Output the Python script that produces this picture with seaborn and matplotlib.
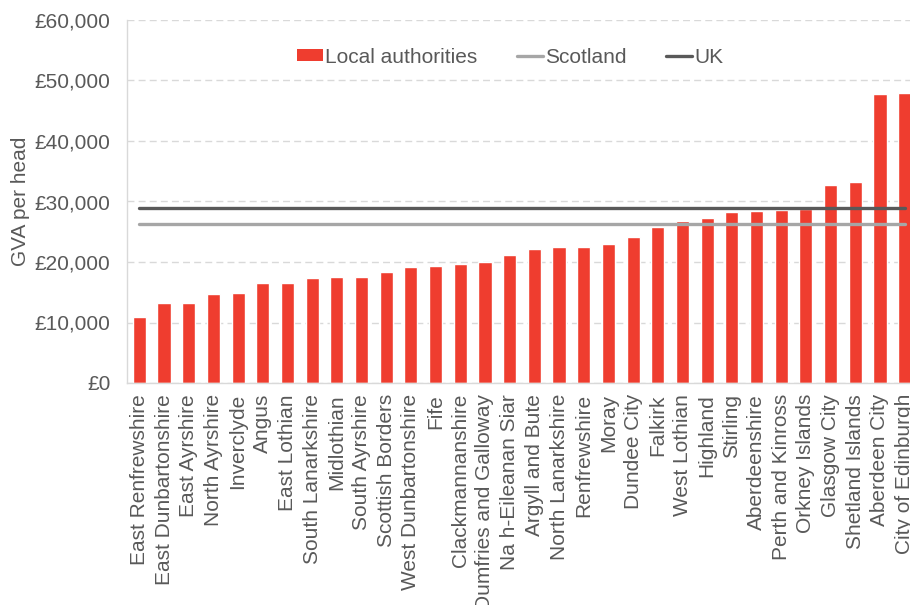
import matplotlib
matplotlib.use("Agg")
import matplotlib.pyplot as plt
import seaborn as sns
import pandas as pd
from matplotlib.patches import Patch
from matplotlib.lines import Line2D
from matplotlib.ticker import FuncFormatter

areas = ["East Renfrewshire", "East Dunbartonshire", "East Ayrshire", "North Ayrshire",
         "Inverclyde", "Angus", "East Lothian", "South Lanarkshire", "Midlothian",
         "South Ayrshire", "Scottish Borders", "West Dunbartonshire", "Fife",
         "Clackmannanshire", "Dumfries and Galloway", "Na h-Eileanan Siar",
         "Argyll and Bute", "North Lanarkshire", "Renfrewshire", "Moray", "Dundee City",
         "Falkirk", "West Lothian", "Highland", "Stirling", "Aberdeenshire",
         "Perth and Kinross", "Orkney Islands", "Glasgow City", "Shetland Islands",
         "Aberdeen City", "City of Edinburgh"]
gva = [10900, 13250, 13250, 14700, 14900, 16500, 16500, 17300, 17600, 17600, 18400,
       19200, 19400, 19700, 19950, 21100, 22100, 22400, 22400, 22900, 24200, 25800,
       26700, 27350, 28300, 28500, 28600, 28700, 32700, 33300, 47700, 47900]
scotland_value = 26200
uk_value = 28850

RED = "#EF3D2F"
SCOT = "#A6A6A6"
UK = "#595959"
TXT = "#595959"

sns.set_theme(style="white")
plt.rcParams["font.family"] = ["Liberation Sans", "DejaVu Sans"]

df = pd.DataFrame({"area": areas, "gva": gva})
df["scotland"] = scotland_value
df["uk"] = uk_value

fig = plt.figure(figsize=(9.1, 6.05), dpi=100)
ax = fig.add_axes([127 / 910, 1 - 383 / 605, 790 / 910, 363 / 605])

sns.barplot(data=df, x="area", y="gva", color=RED, width=0.53, saturation=1,
            ax=ax, zorder=2)
sns.lineplot(data=df, x="area", y="scotland", color=SCOT, linewidth=2.4, sort=False,
             ax=ax, zorder=3)
sns.lineplot(data=df, x="area", y="uk", color=UK, linewidth=2.4, sort=False,
             ax=ax, zorder=4)

ax.set_xlim(-0.5, len(areas) - 0.5)
ax.set_ylim(0, 60000)
ax.set_yticks(range(0, 60001, 10000))
ax.yaxis.set_major_formatter(FuncFormatter(lambda v, p: f"£{v:,.0f}"))
ax.yaxis.grid(True, color="#D9D9D9", linestyle=(0, (5, 3)), linewidth=1, zorder=0)
ax.set_axisbelow(True)

FS = 15
ax.set_xlabel("")
ax.set_ylabel("GVA per head", fontsize=FS, color=TXT, labelpad=3)
ax.tick_params(axis="y", labelsize=FS, labelcolor=TXT, length=0, pad=12)
ax.tick_params(axis="x", labelsize=FS, labelcolor=TXT, length=0, pad=8, rotation=90)

for s in ["top", "right"]:
    ax.spines[s].set_visible(False)
ax.spines["left"].set_color("#D9D9D9")
ax.spines["bottom"].set_color("#D9D9D9")
ax.spines["left"].set_linewidth(1)
ax.spines["bottom"].set_linewidth(1)

handles = [Patch(facecolor=RED, edgecolor="none", label="Local authorities"),
           Line2D([0], [0], color=SCOT, linewidth=2.4, label="Scotland"),
           Line2D([0], [0], color=UK, linewidth=2.4, label="UK")]
leg = ax.legend(handles=handles, loc="center", bbox_to_anchor=(0.485, 0.898),
                ncol=3, frameon=False, fontsize=FS, handlelength=1.25,
                handleheight=0.55, handletextpad=0.1, columnspacing=1.9,
                labelcolor=TXT)

fig.savefig("out.png", dpi=100)
